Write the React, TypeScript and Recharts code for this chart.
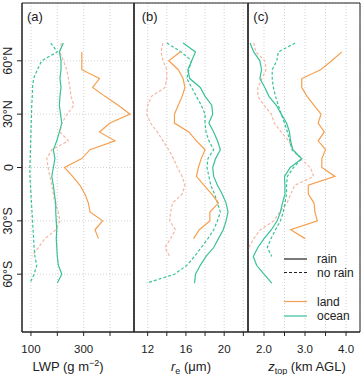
import React from "react";
import { LineChart, Line, XAxis, YAxis, CartesianGrid, ReferenceArea } from "recharts";

// latitude bands (deg, + = N)
const LAT_LAND_RAIN = [65, 60, 55, 50, 45, 40, 35, 30, 25, 20, 15, 10, 5, 0, -5, -10, -15, -20, -25, -30, -35, -40];
const LAT_LAND_DRY = [70, 65, 60, 55, 50, 45, 40, 35, 30, 25, 20, 15, 10, 5, 0, -5, -10, -15, -20, -25, -30, -35, -40, -45, -50];
const LAT_OCEAN = [70, 65, 60, 55, 50, 45, 40, 35, 30, 25, 20, 15, 10, 5, 0, -5, -10, -15, -20, -25, -30, -35, -40, -45, -50, -55, -60, -65];

// (a) LWP, g m-2
const lwpLandRain = [293, 293, 293, 360, 334, 381, 431, 476, 400, 360, 419, 324, 293, 227, 258, 286, 305, 318, 324, 372, 343, 356];
const lwpLandDry = [215, 210, 223, 236, 242, 248, 252, 263, 238, 217, 210, 242, 179, 160, 165, 172, 179, 185, 191, 204, 210, 195, 153, 128, 103];
const lwpOceanRain = [223, 208, 214, 214, 210, 214, 210, 208, 212, 217, 208, 198, 185, 191, 185, 179, 185, 189, 194, 194, 196, 198, 196, 198, 200, 204, 217, 200];
const lwpOceanDry = [175, 200, 141, 124, 110, 106, 105, 103, 102, 101, 100, 99, 98, 97, 96, 96, 98, 100, 102, 104, 106, 108, 110, 112, 115, 122, 112, 96];

// (b) effective radius, um
const reLandRain = [15.4, 14.2, 15.2, 15.7, 15.9, 15.6, 15.2, 14.8, 14.8, 16.3, 17.1, 18.0, 17.6, 17.3, 17.1, 17.9, 18.7, 19.4, 18.5, 18.5, 17.4, 16.8];
const reLandDry = [13.6, 13.4, 13.6, 14.0, 14.0, 13.8, 12.4, 12.0, 11.9, 12.3, 13.0, 13.6, 14.2, 14.7, 15.1, 15.6, 15.9, 15.6, 14.6, 14.4, 14.3, 14.9, 14.4, 13.8, 14.3];
const reOceanRain = [15.7, 17.0, 16.6, 16.2, 16.4, 17.5, 18.0, 18.7, 18.8, 18.4, 18.9, 19.3, 19.6, 19.1, 18.8, 18.9, 19.3, 19.8, 20.2, 20.4, 20.2, 19.9, 19.4, 18.9, 18.1, 17.5, 17.0, 16.9];
const reOceanDry = [14.0, 15.5, 16.6, 16.3, 16.1, 16.6, 17.1, 17.6, 18.0, 18.0, 18.1, 18.4, 18.9, 18.3, 18.2, 18.4, 18.6, 19.0, 19.3, 19.6, 19.3, 18.9, 18.3, 17.6, 16.9, 16.1, 14.8, 11.9];

// (c) cloud top height, km AGL
const ztLandRain = [3.9, 3.65, 3.38, 2.92, 2.92, 3.05, 3.22, 3.39, 3.32, 3.47, 3.32, 3.5, 3.41, 3.41, 3.73, 3.08, 3.08, 3.22, 3.24, 3.3, 2.65, 3.0];
const ztLandDry = [1.75, 1.8, 2.02, 2.05, 1.95, 1.85, 1.85, 2.0, 2.18, 2.25, 2.42, 2.6, 2.72, 2.88, 3.13, 3.21, 2.75, 2.65, 2.56, 2.38, 2.24, 1.91, 1.75, 1.63, 1.55];
const ztOceanRain = [1.66, 1.75, 1.9, 1.94, 1.9, 2.02, 2.12, 2.3, 2.42, 2.55, 2.62, 2.65, 2.7, 2.92, 2.64, 2.5, 2.51, 2.51, 2.45, 2.4, 2.32, 2.18, 2.0, 1.85, 1.74, 1.82, 2.0, 2.19];
const ztOceanDry = [2.76, 2.35, 2.31, 2.2, 2.2, 2.23, 2.28, 2.35, 2.42, 2.5, 2.57, 2.63, 2.68, 2.92, 2.72, 2.57, 2.55, 2.55, 2.51, 2.47, 2.4, 2.28, 2.17, 2.08, 2.19];

const latTicks = [-60, -30, 0, 30, 60];
const latLabels = ["60°S", "30°S", "0", "30°N", "60°N"];

const FONT = "'Liberation Sans', Arial, Helvetica, sans-serif";
const ORANGE = "#F5A04F";
const GREEN = "#38C29A";
const PINK = "#F6B6A4";
const INK = "#222";
const LAT_DOMAIN: [number, number] = [-92.5, 92.5];

type Series = { lat: number[]; vals: number[]; color: string; dashed?: boolean };

const toRows = (lat: number[], vals: number[]) => vals.map((v, i) => ({ v, lat: lat[i] }));

const LatTick = (props: any) => {
  const { x, y, payload } = props;
  const idx = latTicks.indexOf(payload.value);
  const tx = x - 2.5;
  return (
    <text x={tx} y={y} transform={`rotate(-90 ${tx} ${y})`} textAnchor="middle" fontSize={12.5} fill={INK} fontFamily={FONT}>
      {latLabels[idx]}
    </text>
  );
};

const makeXTick = (labelled: number[], fmt: (v: number) => string) => (props: any) => {
  const { x, payload } = props;
  if (!labelled.some((l) => Math.abs(l - payload.value) < 1e-6)) return <g />;
  return (
    <text x={x} y={352.5} textAnchor="middle" fontSize={11.5} fill={INK} fontFamily={FONT}>
      {fmt(payload.value)}
    </text>
  );
};

function Panel(props: {
  left: number;
  width: number;
  marginRight: number;
  yWidth: number;
  domain: [number, number];
  ticks: number[];
  labelled: number[];
  fmt: (v: number) => string;
  series: Series[];
  showLat?: boolean;
  children?: React.ReactNode;
}) {
  const { left, width, marginRight, yWidth, domain, ticks, labelled, fmt, series, showLat, children } = props;
  return (
    <div style={{ position: "absolute", left, top: 0, width, height: 375 }}>
      <LineChart width={width} height={375} margin={{ top: 3, right: marginRight, bottom: 0, left: 0 }}>
        <CartesianGrid stroke="#d2d2d2" strokeDasharray="1 2" />
        <XAxis
          type="number"
          dataKey="v"
          domain={domain}
          ticks={ticks}
          interval={0}
          allowDataOverflow
          height={43}
          axisLine={{ stroke: INK }}
          tickSize={4}
          tickMargin={2}
          tickLine={{ stroke: INK }}
          tick={makeXTick(labelled, fmt)}
        />
        <YAxis
          type="number"
          domain={LAT_DOMAIN}
          ticks={latTicks}
          interval={0}
          allowDataOverflow
          width={yWidth}
          axisLine={{ stroke: INK }}
          tickSize={5}
          tickMargin={2}
          tickLine={{ stroke: INK }}
          tick={showLat ? LatTick : false}
        />
        {series.map((s, i) => (
          <Line
            key={i}
            data={toRows(s.lat, s.vals)}
            dataKey="lat"
            type="linear"
            stroke={s.color}
            strokeWidth={1.2}
            strokeDasharray={s.dashed ? "3 2" : undefined}
            dot={false}
            activeDot={false}
            isAnimationActive={false}
          />
        ))}
        <ReferenceArea
          x1={domain[0]}
          x2={domain[1]}
          y1={LAT_DOMAIN[0]}
          y2={LAT_DOMAIN[1]}
          fill="none"
          fillOpacity={0}
          stroke={INK}
          strokeWidth={1}
          strokeOpacity={1}
        />
        {children}
      </LineChart>
    </div>
  );
}

const txt = { fontFamily: FONT, fill: INK } as const;

export default function App() {
  return (
    <div style={{ position: "absolute", left: 0, top: 0, width: 364, height: 375, background: "#fff" }}>
      <Panel
        left={0}
        width={135}
        marginRight={1}
        yWidth={22}
        domain={[66, 491]}
        ticks={[100, 200, 300, 400]}
        labelled={[100, 300]}
        fmt={(v) => String(v)}
        showLat
        series={[
          { lat: LAT_LAND_DRY, vals: lwpLandDry, color: PINK, dashed: true },
          { lat: LAT_OCEAN, vals: lwpOceanDry, color: GREEN, dashed: true },
          { lat: LAT_LAND_RAIN, vals: lwpLandRain, color: ORANGE },
          { lat: LAT_OCEAN, vals: lwpOceanRain, color: GREEN },
        ]}
      >
        <text x={27} y={20.5} fontSize={13} {...txt}>(a)</text>
        <text x={68} y={371} fontSize={13} textAnchor="middle" {...txt}>
          LWP (g m<tspan dy={-5} fontSize={9}>−2</tspan><tspan dy={5}>)</tspan>
        </text>
      </Panel>
      <Panel
        left={128}
        width={121}
        marginRight={1}
        yWidth={6}
        domain={[10.57, 22.49]}
        ticks={[12, 14, 16, 18, 20, 22]}
        labelled={[12, 16, 20]}
        fmt={(v) => String(v)}
        series={[
          { lat: LAT_LAND_DRY, vals: reLandDry, color: PINK, dashed: true },
          { lat: LAT_OCEAN, vals: reOceanDry, color: GREEN, dashed: true },
          { lat: LAT_LAND_RAIN, vals: reLandRain, color: ORANGE },
          { lat: LAT_OCEAN, vals: reOceanRain, color: GREEN },
        ]}
      >
        <text x={13.7} y={20.5} fontSize={13} {...txt}>(b)</text>
        <text x={63} y={371} fontSize={13} textAnchor="middle" {...txt}>
          <tspan fontStyle="italic">r</tspan>
          <tspan dy={3} fontSize={9}>e</tspan>
          <tspan dy={-3}> (μm)</tspan>
        </text>
      </Panel>
      <Panel
        left={242}
        width={122}
        marginRight={4}
        yWidth={6}
        domain={[1.61, 4.34]}
        ticks={[2, 2.5, 3, 3.5, 4]}
        labelled={[2, 3, 4]}
        fmt={(v) => v.toFixed(1)}
        series={[
          { lat: LAT_LAND_DRY, vals: ztLandDry, color: PINK, dashed: true },
          { lat: LAT_OCEAN, vals: ztOceanDry, color: GREEN, dashed: true },
          { lat: LAT_LAND_RAIN, vals: ztLandRain, color: ORANGE },
          { lat: LAT_OCEAN, vals: ztOceanRain, color: GREEN },
        ]}
      >
        <text x={11.3} y={20.5} fontSize={13} {...txt}>(c)</text>
        <text x={65} y={371} fontSize={13} textAnchor="middle" {...txt}>
          <tspan fontStyle="italic">z</tspan>
          <tspan dy={3} fontSize={9}>top</tspan>
          <tspan dy={-3}> (km AGL)</tspan>
        </text>
        <g fontFamily={FONT} fontSize={12} fill={INK}>
          <line x1={42} x2={65} y1={259} y2={259} stroke={INK} strokeWidth={1.2} />
          <text x={75} y={263}>rain</text>
          <line x1={42} x2={65} y1={272.5} y2={272.5} stroke={INK} strokeWidth={1.2} strokeDasharray="3 2" />
          <text x={75} y={276.5}>no rain</text>
          <line x1={42} x2={65} y1={301.5} y2={301.5} stroke={ORANGE} strokeWidth={1.2} />
          <text x={75} y={306}>land</text>
          <line x1={42} x2={65} y1={316} y2={316} stroke={GREEN} strokeWidth={1.2} />
          <text x={75} y={320}>ocean</text>
        </g>
      </Panel>
    </div>
  );
}
